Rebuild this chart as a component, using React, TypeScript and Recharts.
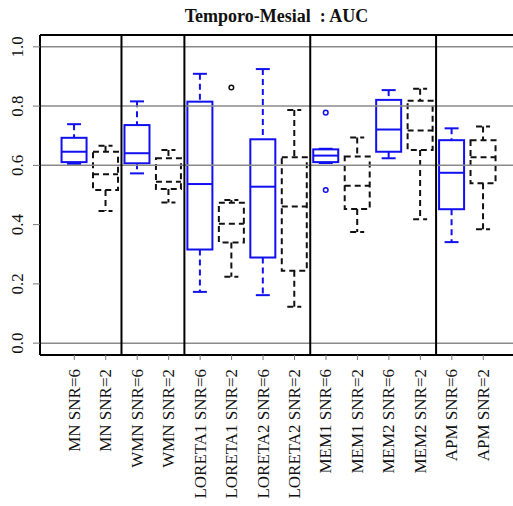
import React from 'react';
import { ComposedChart, Bar, XAxis, YAxis, ReferenceLine } from 'recharts';

const labels = [
  'MN SNR=6', 'MN SNR=2', 'WMN SNR=6', 'WMN SNR=2',
  'LORETA1 SNR=6', 'LORETA1 SNR=2', 'LORETA2 SNR=6', 'LORETA2 SNR=2',
  'MEM1 SNR=6', 'MEM1 SNR=2', 'MEM2 SNR=6', 'MEM2 SNR=2',
  'APM SNR=6', 'APM SNR=2',
];
const positions = [1, 2, 3, 4, 5, 6, 7, 8, 9, 10, 11, 12, 13, 14];
const snr = [6, 2, 6, 2, 6, 2, 6, 2, 6, 2, 6, 2, 6, 2];

const lowWhisker = [0.605, 0.446, 0.573, 0.475, 0.173, 0.224, 0.162, 0.123, 0.608, 0.375, 0.624, 0.418, 0.341, 0.384];
const q1 = [0.611, 0.517, 0.607, 0.52, 0.316, 0.34, 0.289, 0.244, 0.611, 0.453, 0.646, 0.652, 0.452, 0.54];
const median = [0.646, 0.57, 0.641, 0.545, 0.537, 0.403, 0.528, 0.461, 0.633, 0.531, 0.721, 0.718, 0.575, 0.627];
const q3 = [0.693, 0.646, 0.736, 0.624, 0.815, 0.474, 0.688, 0.627, 0.654, 0.63, 0.821, 0.818, 0.685, 0.685];
const highWhisker = [0.739, 0.666, 0.816, 0.652, 0.909, 0.483, 0.925, 0.787, 0.656, 0.694, 0.854, 0.859, 0.725, 0.731];
const outliers: number[][] = [[], [], [], [], [], [0.863], [], [], [0.778, 0.517], [], [], [], [], []];

const yTicks = [0, 0.2, 0.4, 0.6, 0.8, 1.0];
const gridValues = [0, 0.6, 0.8, 1.0];
const groupBreaks = [2.5, 4.5, 8.5, 12.5];

const data = positions.map((p, i) => ({
  pos: p,
  label: labels[i],
  snr: snr[i],
  range: [lowWhisker[i], highWhisker[i]],
  q1: q1[i],
  median: median[i],
  q3: q3[i],
  outliers: outliers[i],
}));

const FONT = '"Liberation Serif", "Times New Roman", serif';

const BoxShape = (props: any) => {
  const { x, y, width, height, payload } = props;
  if (x == null || y == null) return null;
  const lo = payload.range[0];
  const hi = payload.range[1];
  const toY = (v: number) => y + ((hi - v) / (hi - lo)) * height;
  const blue = payload.snr === 6;
  const color = blue ? '#1010f0' : '#111';
  const dash = '6 4';
  const boxDash = blue ? undefined : dash;
  const cx = x + width / 2;
  const capHalf = width * 0.28;
  const yq1 = toY(payload.q1);
  const yq3 = toY(payload.q3);
  const ymed = toY(payload.median);
  return (
    <g fill="none" stroke={color} strokeWidth={2}>
      <line x1={cx} x2={cx} y1={y} y2={yq3} strokeDasharray={dash} />
      <line x1={cx} x2={cx} y1={yq1} y2={y + height} strokeDasharray={dash} />
      <line x1={cx - capHalf} x2={cx + capHalf} y1={y} y2={y} strokeDasharray={boxDash} />
      <line x1={cx - capHalf} x2={cx + capHalf} y1={y + height} y2={y + height} strokeDasharray={boxDash} />
      <rect x={x} y={yq3} width={width} height={yq1 - yq3} strokeDasharray={boxDash} />
      <line x1={x} x2={x + width} y1={ymed} y2={ymed} strokeDasharray={boxDash} />
      {payload.outliers.map((o: number, k: number) => (
        <circle key={k} cx={cx} cy={toY(o)} r={2.3} strokeWidth={1.5} />
      ))}
    </g>
  );
};

const XTick = (props: any) => {
  const { x, y, payload } = props;
  const idx = positions.indexOf(payload.value);
  return (
    <text
      transform={`translate(${x},${y}) rotate(-90)`}
      textAnchor="end"
      dominantBaseline="central"
      fontFamily={FONT}
      fontSize={17}
      fill="#111"
    >
      {labels[idx]}
    </text>
  );
};

const YTick = (props: any) => {
  const { x, y, payload } = props;
  return (
    <text
      transform={`translate(${x - 14},${y}) rotate(-90)`}
      textAnchor="middle"
      dominantBaseline="central"
      fontFamily={FONT}
      fontSize={17}
      fill="#111"
    >
      {payload.value.toFixed(1)}
    </text>
  );
};

export default function App() {
  return (
    <div style={{ position: 'absolute', left: 0, top: 0, width: 513, height: 506, background: '#fff' }}>
      <div
        style={{
          position: 'absolute',
          left: 40,
          width: 473,
          top: 6,
          textAlign: 'center',
          fontFamily: FONT,
          fontWeight: 'bold',
          fontSize: 18,
          color: '#111',
        }}
      >
        Temporo-Mesial&nbsp; : AUC
      </div>
      <ComposedChart width={513} height={506} data={data} margin={{ top: 35, right: 0, bottom: 0, left: 0 }}>
        {gridValues.map(v => (
          <ReferenceLine key={'g' + v} y={v} stroke="#8a8a8a" strokeWidth={1.5} />
        ))}
        <ReferenceLine y={1.04} stroke="#000" strokeWidth={2} />
        {groupBreaks.map(v => (
          <ReferenceLine key={'b' + v} x={v} stroke="#000" strokeWidth={2} />
        ))}
        <XAxis
          dataKey="pos"
          type="number"
          domain={[-0.09, 14.945]}
          allowDataOverflow
          ticks={positions}
          interval={0}
          height={151}
          tickSize={5}
          tickMargin={9}
          axisLine={{ stroke: '#000', strokeWidth: 2 }}
          tickLine={{ stroke: '#777' }}
          tick={<XTick />}
        />
        <YAxis
          type="number"
          domain={[-0.04, 1.04]}
          allowDataOverflow
          ticks={yTicks}
          interval={0}
          width={40}
          tickSize={7}
          tickMargin={2}
          axisLine={{ stroke: '#000', strokeWidth: 2 }}
          tickLine={{ stroke: '#777' }}
          tick={<YTick />}
        />
        <Bar dataKey="range" barSize={25} shape={<BoxShape />} isAnimationActive={false} />
      </ComposedChart>
    </div>
  );
}
